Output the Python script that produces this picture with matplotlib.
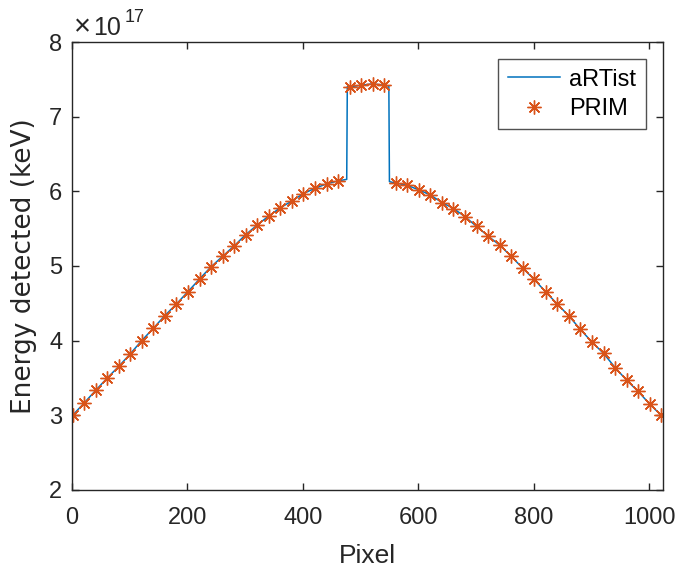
import matplotlib
matplotlib.use("Agg")
import matplotlib.pyplot as plt
from matplotlib.ticker import FixedLocator

plt.rcParams['font.family'] = ['Liberation Sans', 'DejaVu Sans']

# PRIM samples (pixel, energy in units of 1e17 keV)
prim_x = [1, 21, 41, 61, 81, 101, 121, 141, 161, 181, 201, 221, 241, 261, 281, 301,
          321, 341, 361, 381, 401, 421, 441, 461,
          481, 501, 521, 541,
          561, 581, 601, 621, 641, 661, 681, 701, 721, 741, 761, 781, 801, 821, 841,
          861, 881, 901, 921, 941, 961, 981, 1001, 1021]
prim_y = [3.00, 3.165, 3.334, 3.50, 3.655, 3.824, 4.002, 4.167, 4.336, 4.492, 4.657, 4.826,
          4.99, 5.13, 5.27, 5.42, 5.55, 5.67, 5.78, 5.87, 5.97, 6.04, 6.10, 6.14,
          7.40, 7.42, 7.44, 7.42,
          6.11, 6.08, 6.02, 5.95, 5.85, 5.77, 5.66, 5.53, 5.40, 5.28, 5.13, 4.97, 4.82,
          4.65, 4.49, 4.33, 4.15, 3.98, 3.83, 3.64, 3.47, 3.32, 3.15, 3.00]

# aRTist profile (read at the same positions plus the step edges)
artist_x = [1, 21, 41, 61, 81, 101, 121, 141, 161, 181, 201, 221, 241, 261, 281, 301,
            321, 341, 361, 381, 401, 421, 441, 461, 476,
            477, 481, 501, 521, 541, 549,
            550, 561, 581, 601, 621, 641, 661, 681, 701, 721, 741, 761, 781, 801, 821, 841,
            861, 881, 901, 921, 941, 961, 981, 1001, 1021, 1024]
artist_y = [3.00, 3.165, 3.334, 3.50, 3.655, 3.824, 4.002, 4.167, 4.336, 4.492, 4.657, 4.826,
            4.99, 5.13, 5.27, 5.42, 5.55, 5.67, 5.78, 5.87, 5.97, 6.04, 6.10, 6.14, 6.16,
            7.40, 7.40, 7.42, 7.44, 7.42, 7.41,
            6.13, 6.11, 6.08, 6.02, 5.95, 5.85, 5.77, 5.66, 5.53, 5.40, 5.28, 5.13, 4.97, 4.82,
            4.65, 4.49, 4.33, 4.15, 3.98, 3.83, 3.64, 3.47, 3.32, 3.15, 3.00, 2.98]

scale = 1e17
x_ticks = [0, 200, 400, 600, 800, 1000]
y_ticks = [2, 3, 4, 5, 6, 7, 8]

blue = '#0072BD'
orange = '#D95319'
axc = '#262626'

fig = plt.figure(figsize=(6.77, 5.72), dpi=100)
ax = fig.add_axes([72/677, 1-490/572, (663-72)/677, (490-42)/572])

ax.plot(artist_x, [v*scale for v in artist_y], color=blue, lw=1.1, label='aRTist')
ax.plot(prim_x, [v*scale for v in prim_y], linestyle='none', marker=(8, 2, 0),
        markersize=10, markeredgewidth=1.0, color=orange, label='PRIM')

ax.set_xlim(0, 1024)
ax.set_ylim(2*scale, 8*scale)
ax.xaxis.set_major_locator(FixedLocator(x_ticks))
ax.yaxis.set_major_locator(FixedLocator([t*scale for t in y_ticks]))
ax.set_xticklabels([str(t) for t in x_ticks])
ax.set_yticklabels([str(t) for t in y_ticks])

ax.tick_params(direction='in', top=True, right=True, length=5, width=1.0,
               labelsize=17, colors=axc, labelcolor=axc)
ax.tick_params(axis='x', pad=12)
ax.tick_params(axis='y', pad=7)
for s in ax.spines.values():
    s.set_color(axc)
    s.set_linewidth(1.0)

ax.set_xlabel('Pixel', fontsize=19, color=axc, labelpad=11)
ax.set_ylabel('Energy detected (keV)', fontsize=19, color=axc, labelpad=9,
              family=['DejaVu Sans'])

t0 = ax.text(2/591, 1 + 7/448, '\u00d7', transform=ax.transAxes, fontsize=21,
             color=axc, ha='left', va='baseline')
fig.canvas.draw()
b0 = t0.get_window_extent()
t1 = fig.text((b0.x1 + 2) / fig.bbox.width, (572 - 35) / 572, '10', fontsize=18,
              color=axc, ha='left', va='baseline')
fig.canvas.draw()
bb = t1.get_window_extent()
fig.text((bb.x1 + 4) / fig.bbox.width, (572 - 22) / 572, '17', fontsize=13,
         color=axc, ha='left', va='baseline')

leg = ax.legend(loc='upper right', fontsize=17, frameon=True, fancybox=False,
                edgecolor=axc, borderpad=0.4, handlelength=2.2, handletextpad=0.4,
                labelspacing=0.3, borderaxespad=0,
                bbox_to_anchor=((645.7-72)/591, (490-59.3)/448))
leg.get_frame().set_linewidth(1.0)

fig.savefig('out.png', dpi=100)
